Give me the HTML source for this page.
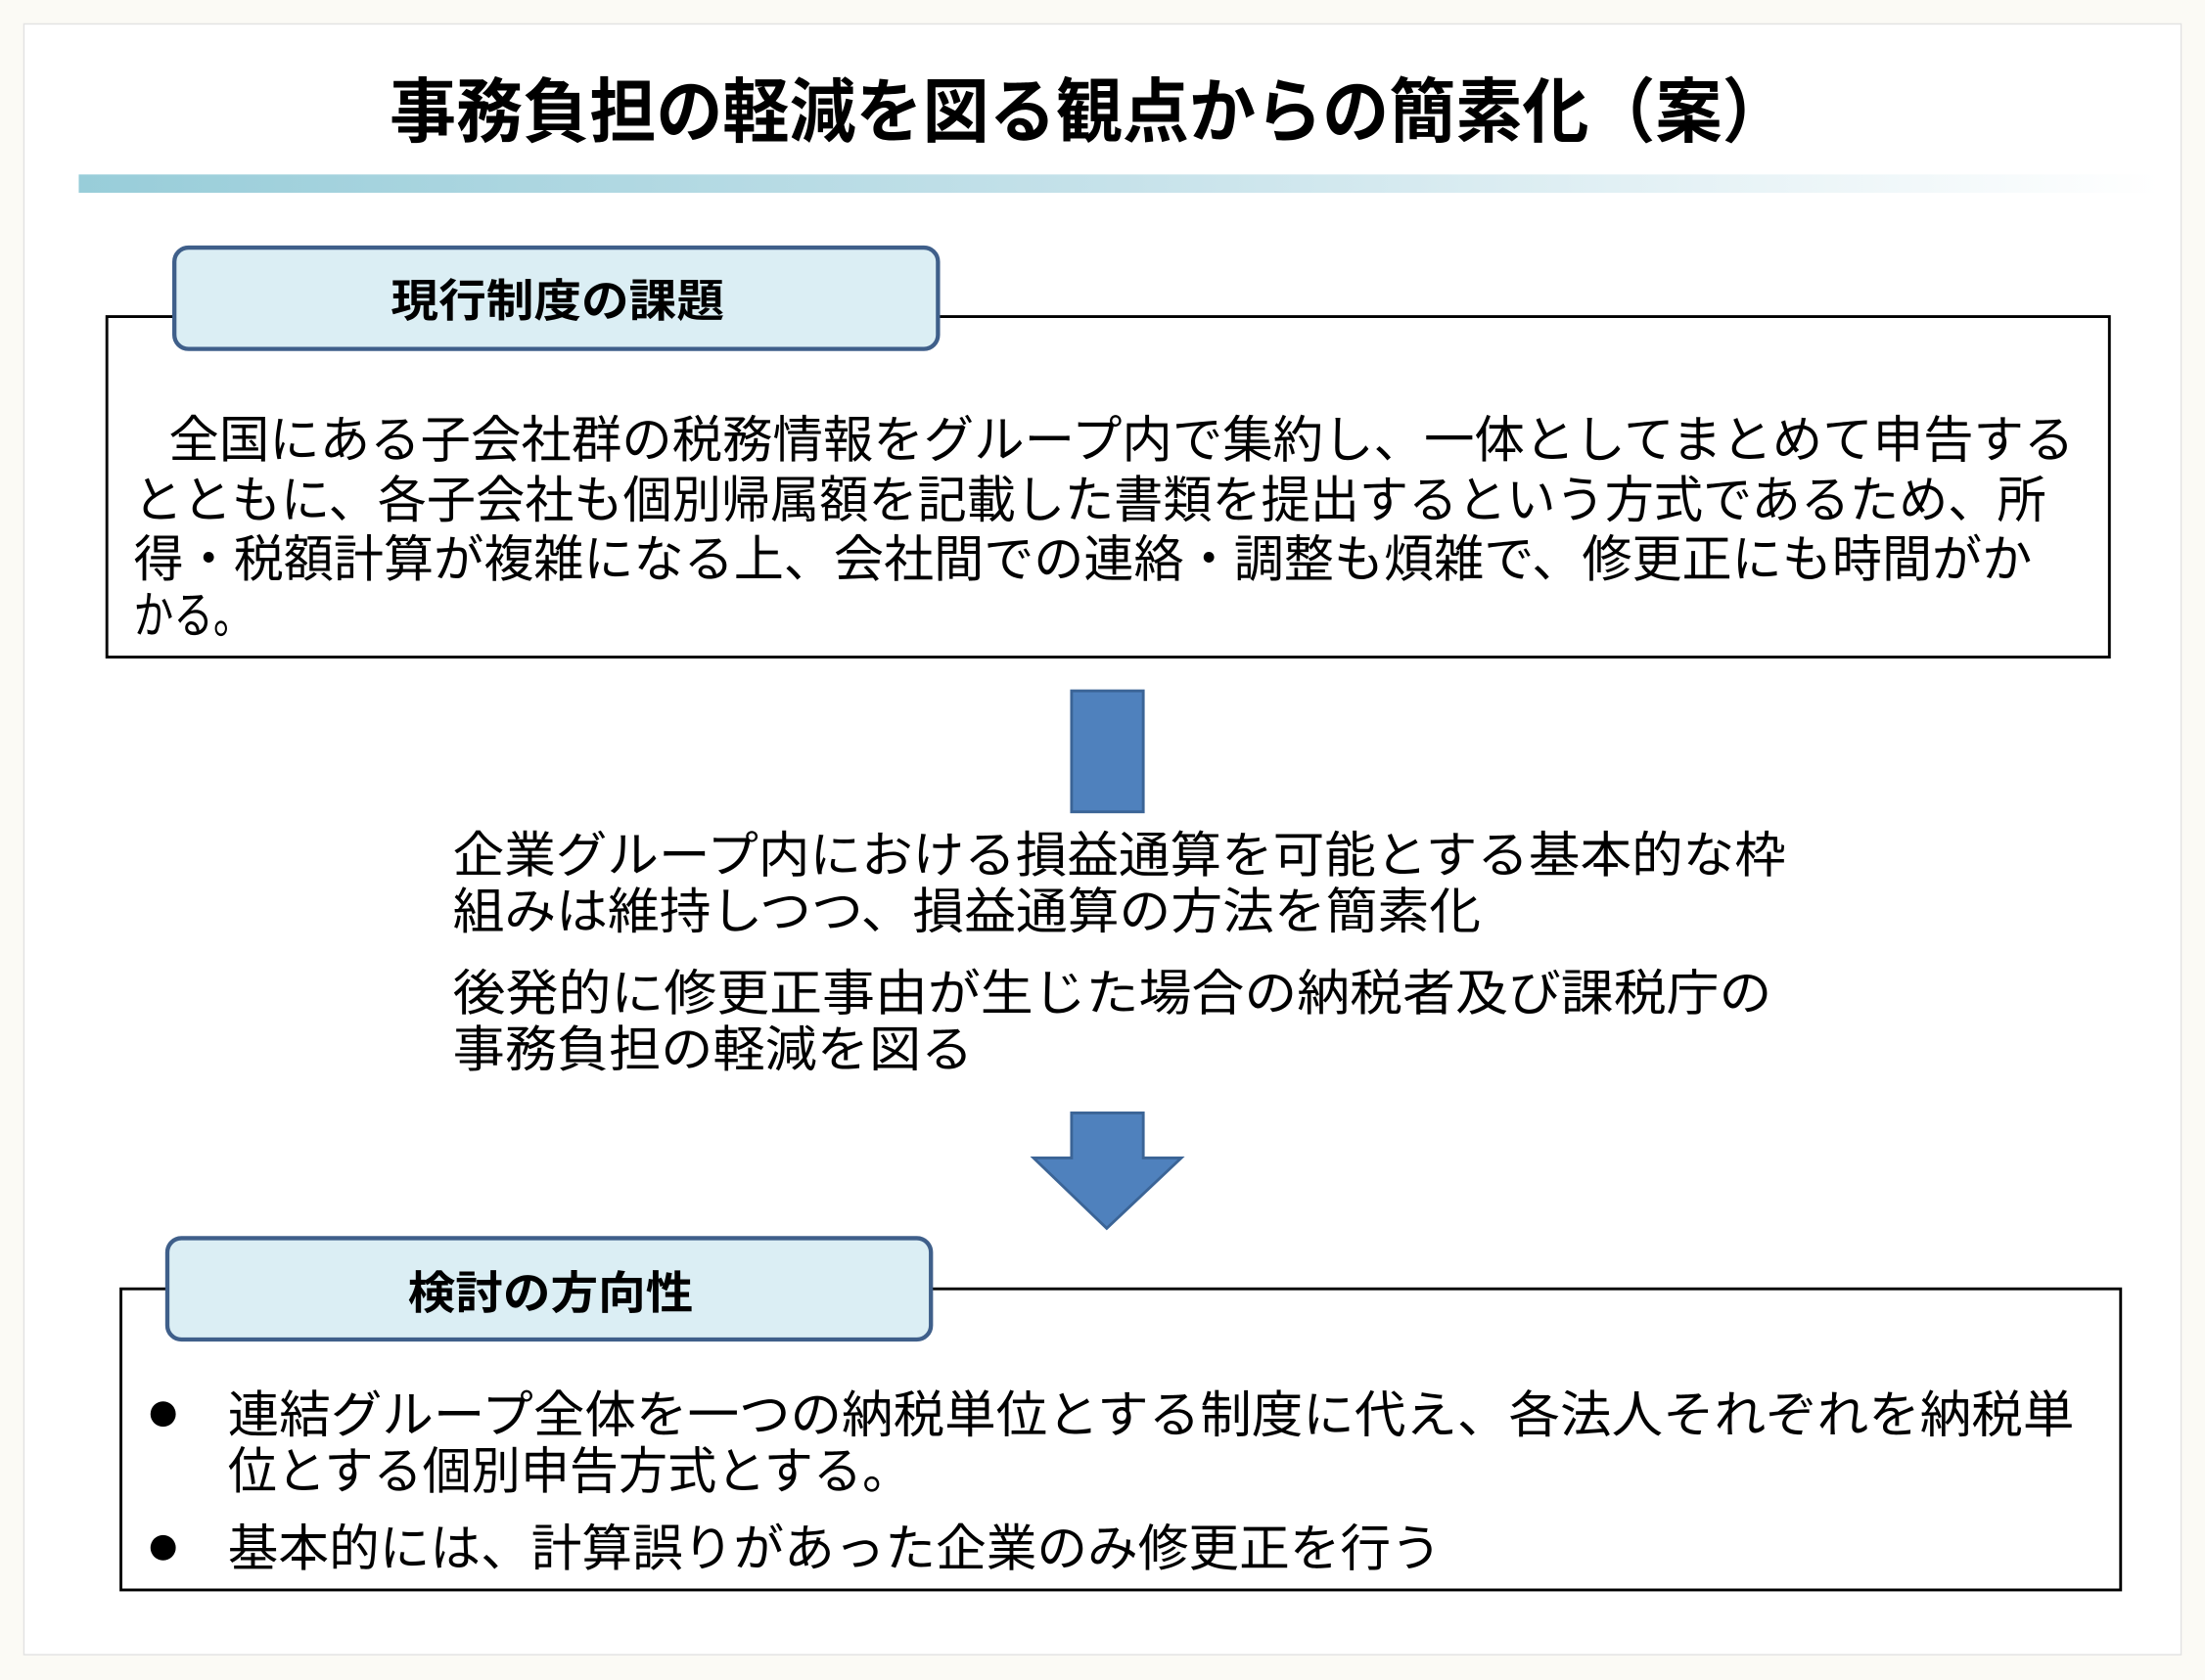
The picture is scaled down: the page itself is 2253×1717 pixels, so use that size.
<!DOCTYPE html>
<html><head><meta charset="utf-8"><style>
html,body{margin:0;padding:0;background:#fbfaf5;}
svg{display:block}
text{font-family:"Liberation Sans","Noto Sans CJK JP",sans-serif;fill:#000}
</style></head><body>
<svg width="2253" height="1717" viewBox="0 0 1568 1194" preserveAspectRatio="none" xmlns="http://www.w3.org/2000/svg">
<defs>
<linearGradient id="g" x1="0" x2="1" y1="0" y2="0">
<stop offset="0" stop-color="#98cdd9"/><stop offset="0.5" stop-color="#c6e2ea"/><stop offset="1" stop-color="#ffffff"/>
</linearGradient>
</defs>
<rect x="0" y="0" width="1568" height="1194" fill="#fbfaf5"/>
<rect x="17" y="17" width="1534" height="1159" fill="#fff" stroke="#e2e2e2" stroke-width="1"/>
<text x="277" y="97" font-size="50" font-weight="bold" textLength="995" lengthAdjust="spacingAndGlyphs">事務負担の軽減を図る観点からの簡素化（案）</text>
<rect x="56" y="124" width="1480" height="13" fill="url(#g)"/>

<rect x="76" y="225" width="1424" height="242" fill="#fff" stroke="#000" stroke-width="2"/>
<rect x="124" y="176" width="543" height="72" rx="10" fill="#dbeef4" stroke="#3f5f8a" stroke-width="3"/>
<text x="278" y="225" font-size="32" font-weight="bold" textLength="237" lengthAdjust="spacingAndGlyphs">現行制度の課題</text>
<g font-size="36">
<text x="120" y="325" textLength="1355" lengthAdjust="spacingAndGlyphs">全国にある子会社群の税務情報をグループ内で集約し、一体としてまとめて申告する</text>
<text x="95" y="368" textLength="1360" lengthAdjust="spacingAndGlyphs">とともに、各子会社も個別帰属額を記載した書類を提出するという方式であるため、所</text>
<text x="95" y="410" textLength="1350" lengthAdjust="spacingAndGlyphs">得・税額計算が複雑になる上、会社間での連絡・調整も煩雑で、修更正にも時間がか</text>
<text x="95" y="450" textLength="85" lengthAdjust="spacingAndGlyphs">かる。</text>
</g>

<rect x="762" y="491" width="51" height="86" fill="#4f81bd" stroke="#3b6496" stroke-width="2"/>
<g font-size="35">
<text x="322" y="620" textLength="948" lengthAdjust="spacingAndGlyphs">企業グループ内における損益通算を可能とする基本的な枠</text>
<text x="322" y="660" textLength="731" lengthAdjust="spacingAndGlyphs">組みは維持しつつ、損益通算の方法を簡素化</text>
<text x="322" y="718" textLength="938" lengthAdjust="spacingAndGlyphs">後発的に修更正事由が生じた場合の納税者及び課税庁の</text>
<text x="322" y="758" textLength="370" lengthAdjust="spacingAndGlyphs">事務負担の軽減を図る</text>
</g>
<polygon points="762,791 813,791 813,823 840,823 787,873 735,823 762,823" fill="#4f81bd" stroke="#3b6496" stroke-width="2"/>

<rect x="86" y="916" width="1422" height="214" fill="#fff" stroke="#000" stroke-width="2"/>
<rect x="119" y="880" width="543" height="72" rx="10" fill="#dbeef4" stroke="#3f5f8a" stroke-width="3"/>
<text x="290" y="930" font-size="32" font-weight="bold" textLength="203" lengthAdjust="spacingAndGlyphs">検討の方向性</text>
<circle cx="116" cy="1005" r="9" fill="#000"/>
<circle cx="116" cy="1100" r="9" fill="#000"/>
<g font-size="36">
<text x="162" y="1018" textLength="1313" lengthAdjust="spacingAndGlyphs">連結グループ全体を一つの納税単位とする制度に代え、各法人それぞれを納税単</text>
<text x="162" y="1058" textLength="486" lengthAdjust="spacingAndGlyphs">位とする個別申告方式とする。</text>
<text x="162" y="1113" textLength="863" lengthAdjust="spacingAndGlyphs">基本的には、計算誤りがあった企業のみ修更正を行う</text>
</g>
</svg>
</body></html>
